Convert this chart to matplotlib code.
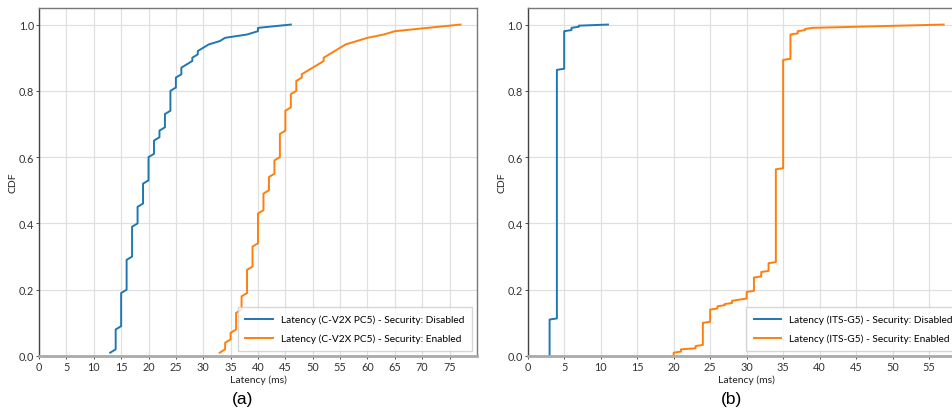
import numpy as np
import matplotlib
matplotlib.use("Agg")
import matplotlib.pyplot as plt

#   Data: latency values (ms) and number of samples at each value   #
#   (a) C-V2X PC5, 100 samples per series
cv2x_off_lat = [13, 14, 15, 16, 17, 18, 19, 20, 21, 22, 23, 24, 25, 26, 27, 28, 29, 30, 31, 33, 34, 38, 40, 46]
cv2x_off_cnt = [1, 7, 11, 10, 10, 6, 7, 8, 5, 3, 5, 7, 4, 3, 1, 2, 2, 1, 1, 1, 1, 1, 2, 1]

cv2x_on_lat = [33, 34, 35, 36, 37, 38, 39, 40, 41, 42, 43, 44, 45, 46, 47, 48, 49, 50, 51, 52,
               53, 54, 55, 56, 58, 60, 63, 65, 71, 77]
cv2x_on_cnt = [1, 3, 3, 6, 5, 8, 7, 10, 6, 5, 5, 8, 7, 5, 4, 2, 1, 1, 1, 2,
               1, 1, 1, 1, 1, 1, 1, 1, 1, 1]

#   (b) ITS-G5, 300 samples per series
itsg5_off_lat = [3, 4, 5, 6, 7, 11]
itsg5_off_cnt = [33, 226, 35, 3, 2, 1]

itsg5_on_lat = [20, 21, 23, 24, 25, 26, 27, 28, 29, 30, 31, 32, 33, 34, 35, 36, 37, 38, 39, 45, 51, 57]
itsg5_on_cnt = [3, 3, 3, 21, 12, 3, 2, 3, 1, 7, 13, 5, 8, 85, 99, 23, 3, 2, 1, 1, 1, 1]

legend_a = ['Latency (C-V2X PC5) - Security: Disabled', 'Latency (C-V2X PC5) - Security: Enabled']
legend_b = ['Latency (ITS-G5) - Security: Disabled', 'Latency (ITS-G5) - Security: Enabled']

BLUE = '#1f77b4'
ORANGE = '#ff7f0e'

plt.rcParams['font.family'] = ['Lato', 'DejaVu Sans']


#   Empirical CDF from latency values and counts   #
def ecdf(lat, cnt):

    samples = np.sort(np.repeat(lat, cnt))
    return samples, np.arange(1, len(samples) + 1) / len(samples)


#   Style one panel   #
def style_axes(ax, xmax, labels):

    ax.set_xlim(0, xmax)
    ax.set_ylim(0, 1.05)
    ax.set_xticks(np.arange(0, xmax, 5))
    ax.set_yticks([0.0, 0.2, 0.4, 0.6, 0.8, 1.0])
    ax.set_yticklabels(['0.0', '0.2', '0.4', '0.6', '0.8', '1.0'])
    ax.grid(True, color='#e0e0e0', linewidth=0.9)
    ax.set_axisbelow(True)
    ax.tick_params(labelsize=7.8, length=2, width=0.6, pad=1.5, colors='#333333')
    for side in ['top', 'right']:
        ax.spines[side].set_color('#777777')
        ax.spines[side].set_linewidth(1.0)
    ax.spines['left'].set_color('#444444')
    ax.spines['left'].set_linewidth(1.0)
    ax.spines['bottom'].set_color('#aaaaaa')
    ax.spines['bottom'].set_linewidth(2.0)
    ax.set_xlabel('Latency (ms)', fontsize=7.5, labelpad=2, color='#222222')
    ax.set_ylabel('CDF', fontsize=7.5, labelpad=1, color='#222222')
    ax.legend(labels, loc='lower right', fontsize=7.3, frameon=True, fancybox=False,
              edgecolor='#cccccc', borderpad=0.75, handlelength=2.7, labelspacing=0.95,
              borderaxespad=0.5)


fig = plt.figure(figsize=(9.52, 4.14), dpi=100)

ax1 = fig.add_axes([0.041, 0.1377, 0.460, 0.8406])
x, y = ecdf(cv2x_off_lat, cv2x_off_cnt)
ax1.plot(x, y, color=BLUE, linewidth=1.4)
x, y = ecdf(cv2x_on_lat, cv2x_on_cnt)
ax1.plot(x, y, color=ORANGE, linewidth=1.4)
style_axes(ax1, 80, legend_a)

ax2 = fig.add_axes([0.5543, 0.1377, 0.460, 0.8406])
x, y = ecdf(itsg5_off_lat, itsg5_off_cnt)
ax2.plot(x, y, color=BLUE, linewidth=1.4)
x, y = ecdf(itsg5_on_lat, itsg5_on_cnt)
ax2.plot(x, y, color=ORANGE, linewidth=1.4)
style_axes(ax2, 60, legend_b)

fig.text(243 / 952, 1 - 400 / 414, '(a)', ha='center', va='center', fontsize=12.5, family='Liberation Sans')
fig.text(732 / 952, 1 - 400 / 414, '(b)', ha='center', va='center', fontsize=12.5, family='Liberation Sans')

fig.savefig('out.png', dpi=100)
